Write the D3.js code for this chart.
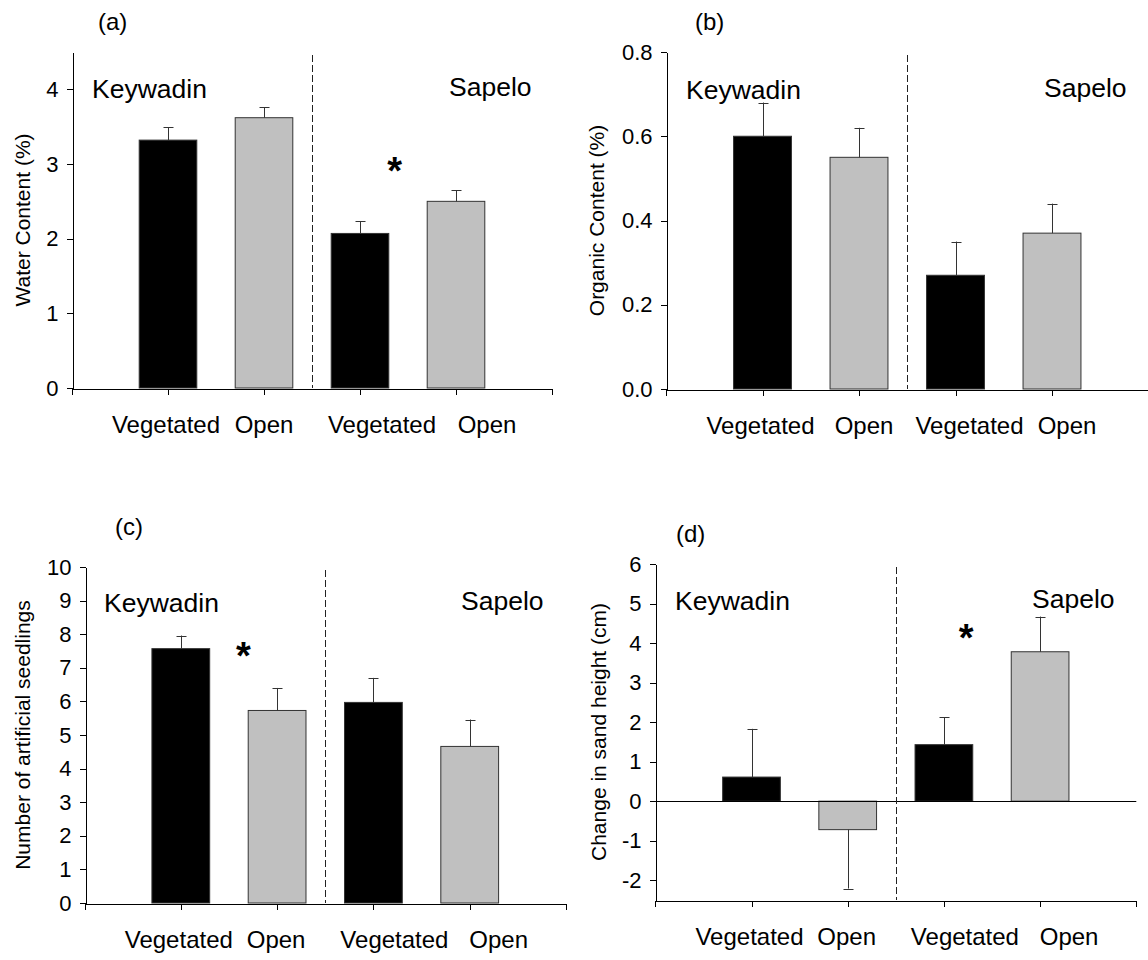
<!DOCTYPE html>
<html>
<head>
<meta charset="utf-8">
<script src="https://cdn.jsdelivr.net/npm/d3@7"></script>
<style>
  body { margin: 0; background: #fff; }
  svg { display: block; font-family: "Liberation Sans", Arial, sans-serif; }
  .axis path, .axis line { stroke: #000; stroke-width: 1; shape-rendering: crispEdges; }
  .axis text { font-size: 22px; fill: #000; }
</style>
</head>
<body>
<div id="plotContainer"></div>
<script>
// ---- data ----
const sites = ["Keywadin", "Sapelo"];
const habitats = ["Vegetated", "Open"];
const barPos = [1, 2, 3, 4];            // Keywadin Veg, Keywadin Open, Sapelo Veg, Sapelo Open
const barFill = ["#000000", "#c0c0c0", "#000000", "#c0c0c0"];

const waterMean   = [3.32, 3.62, 2.07, 2.50];
const waterErr    = [0.17, 0.14, 0.16, 0.15];
const organicMean = [0.60, 0.55, 0.27, 0.37];
const organicErr  = [0.08, 0.07, 0.08, 0.07];
const seedMean    = [7.57, 5.73, 5.97, 4.66];
const seedErr     = [0.39, 0.67, 0.73, 0.80];
const sandMean    = [0.61, -0.72, 1.43, 3.78];
const sandErr     = [1.22, 1.49, 0.69, 0.89];

const waterTicks   = [0, 1, 2, 3, 4];
const organicTicks = [0, 0.2, 0.4, 0.6, 0.8];
const seedTicks    = [0, 1, 2, 3, 4, 5, 6, 7, 8, 9, 10];
const sandTicks    = [-2, -1, 0, 1, 2, 3, 4, 5, 6];

// significance stars, [x in bar units, y in data units]
const waterStar = [3.36, 3.02];
const seedStar  = [1.65, 7.6];
const sandStar  = [3.23, 4.34];

// plain hyphen for negatives, like the original
const intFmt = d => String(d);
const decFmt = d => d.toFixed(1);

// ---- panel layout (pixels) ----
const panels = [
  { tag: "(a)", title: "Water Content (%)", mean: waterMean, err: waterErr,
    domain: [0, 4.5], ticks: waterTicks, fmt: intFmt, star: waterStar,
    x0: 72, unit: 96, top: 52, bottom: 388,
    tagPos: [98, 30], titleX: 23, keyPos: [92, 98], sapPos: [449, 96],
    catDx: [-2, 0, 22, 31] },
  { tag: "(b)", title: "Organic Content (%)", mean: organicMean, err: organicErr,
    domain: [0, 0.8], ticks: organicTicks, fmt: decFmt, star: null,
    x0: 666, unit: 96.5, top: 52, bottom: 389,
    tagPos: [695, 30], titleX: 597, keyPos: [686, 99], sapPos: [1044, 97],
    catDx: [-2, 5, 14, 15] },
  { tag: "(c)", title: "Number of artificial seedlings", mean: seedMean, err: seedErr,
    domain: [0, 10], ticks: seedTicks, fmt: intFmt, star: seedStar,
    x0: 84.5, unit: 96.3, top: 567, bottom: 903,
    tagPos: [115, 535], titleX: 23, keyPos: [104, 612], sapPos: [461, 610],
    catDx: [-2, -1, 21, 29] },
  { tag: "(d)", title: "Change in sand height (cm)", mean: sandMean, err: sandErr,
    domain: [-2.5, 6], ticks: sandTicks, fmt: intFmt, star: sandStar,
    x0: 655.3, unit: 96.2, top: 564, bottom: 900,
    tagPos: [676, 542], titleX: 599, keyPos: [675, 610], sapPos: [1032, 608],
    catDx: [-2, -1, 21, 29] }
];

const svg = d3.select("#plotContainer").append("svg")
  .attr("width", 1148).attr("height", 960);

panels.forEach(p => drawPanel(p));

function drawPanel(p) {
  const x = d3.scaleLinear().domain([0, 5]).range([p.x0, p.x0 + 5 * p.unit]);
  const y = d3.scaleLinear().domain(p.domain).range([p.bottom, p.top]);
  const g = svg.append("g");
  const bw = 0.6;

  // bars
  g.selectAll("rect.bar").data(p.mean).enter().append("rect")
    .attr("class", "bar")
    .attr("x", (d, i) => x(barPos[i] - bw / 2))
    .attr("width", x(bw) - x(0))
    .attr("y", d => y(Math.max(0, d)))
    .attr("height", d => Math.abs(y(d) - y(0)))
    .attr("fill", (d, i) => barFill[i])
    .attr("stroke", "#333")
    .attr("stroke-width", 1);

  // error bars, one-sided away from zero
  const capW = 5;
  p.mean.forEach((m, i) => {
    const tip = m >= 0 ? m + p.err[i] : m - p.err[i];
    const cx = Math.round(x(barPos[i])) + 0.5;
    g.append("line").attr("x1", cx).attr("x2", cx)
      .attr("y1", y(m)).attr("y2", y(tip))
      .attr("stroke", "#333").attr("stroke-width", 1);
    g.append("line").attr("x1", cx - capW).attr("x2", cx + capW)
      .attr("y1", Math.round(y(tip)) + 0.5).attr("y2", Math.round(y(tip)) + 0.5)
      .attr("stroke", "#333").attr("stroke-width", 1);
  });

  // zero line when the range goes negative
  if (p.domain[0] < 0) {
    g.append("line")
      .attr("x1", x(0)).attr("x2", x(5))
      .attr("y1", Math.round(y(0)) + 0.5).attr("y2", Math.round(y(0)) + 0.5)
      .attr("stroke", "#000").attr("stroke-width", 1);
  }

  // site divider
  g.append("line")
    .attr("x1", Math.round(x(2.5)) + 0.5).attr("x2", Math.round(x(2.5)) + 0.5)
    .attr("y1", p.top + 3).attr("y2", p.bottom)
    .attr("stroke", "#222").attr("stroke-width", 1)
    .attr("stroke-dasharray", "7,3");

  // axes
  g.append("g").attr("class", "axis")
    .attr("transform", "translate(" + Math.round(p.x0) + ".5,0)")
    .call(d3.axisLeft(y).tickValues(p.ticks).tickFormat(p.fmt)
      .tickSize(6).tickSizeOuter(0).tickPadding(8));

  g.append("g").attr("class", "axis")
    .attr("transform", "translate(0," + Math.round(p.bottom) + ".5)")
    .call(d3.axisBottom(x).tickValues([0, 1, 2, 3, 4, 5]).tickFormat("")
      .tickSize(6).tickSizeOuter(0));

  // axis title
  g.append("text")
    .attr("transform", "translate(" + p.titleX + "," + ((p.top + p.bottom) / 2) + ") rotate(-90)")
    .attr("dy", "0.35em")
    .attr("text-anchor", "middle")
    .style("font-size", "21px")
    .text(p.title);

  // category labels
  barPos.forEach((b, i) => {
    g.append("text")
      .attr("x", x(b) + p.catDx[i]).attr("y", p.bottom + 45)
      .attr("text-anchor", "middle")
      .style("font-size", "24px")
      .text(habitats[i % 2]);
  });

  // site names
  g.append("text").attr("x", p.keyPos[0]).attr("y", p.keyPos[1])
    .style("font-size", "26.5px").text(sites[0]);
  g.append("text").attr("x", p.sapPos[0]).attr("y", p.sapPos[1])
    .style("font-size", "26.5px").text(sites[1]);

  // panel tag
  g.append("text").attr("x", p.tagPos[0]).attr("y", p.tagPos[1])
    .style("font-size", "24px").text(p.tag);

  // significance star
  if (p.star) {
    g.append("text")
      .attr("x", x(p.star[0])).attr("y", y(p.star[1]) + 21)
      .attr("text-anchor", "middle")
      .style("font-size", "38px").style("font-weight", "bold")
      .text("*");
  }
}
</script>
</body>
</html>
